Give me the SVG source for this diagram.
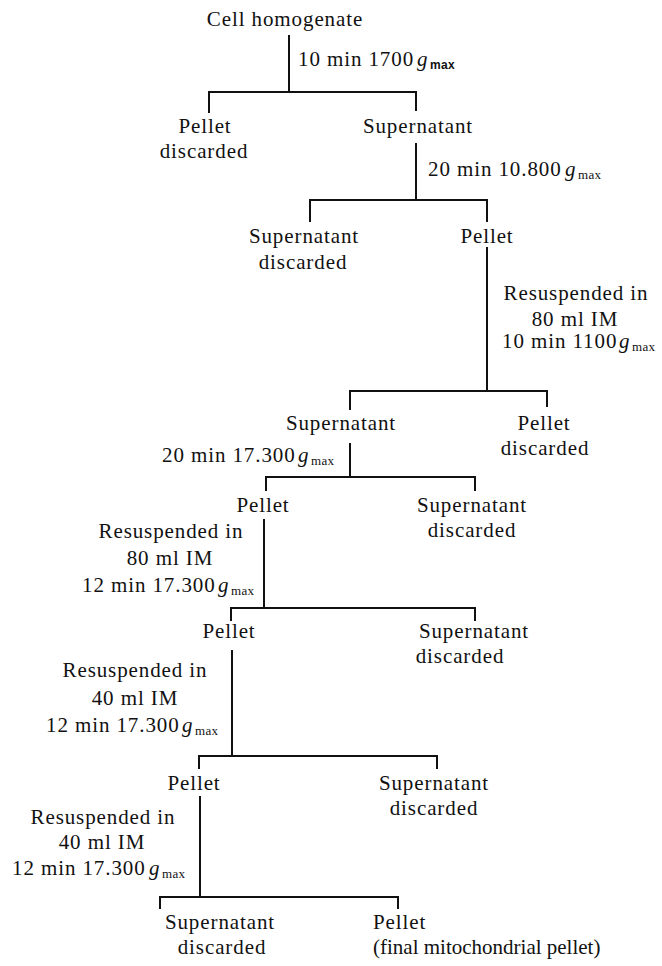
<svg xmlns="http://www.w3.org/2000/svg" width="662" height="966" viewBox="0 0 662 966">
<style>
text{font-family:"Liberation Serif","Times New Roman",serif;font-size:21px;letter-spacing:0.9px;fill:#111}
.c{text-anchor:middle}
.g{font-style:italic}
.sub{font-size:13px;letter-spacing:0.3px}
.subs{font-family:"Liberation Sans",Arial,sans-serif;font-weight:bold;font-size:12px;letter-spacing:0.3px}
.tight{letter-spacing:0}
#connectors path{fill:none;stroke:#111;stroke-width:2}
</style>
<rect width="662" height="966" fill="#fff"/>
<g id="connectors">
<path d="M289,35 V92 M209,113 V92 H416 V111"/>
<path d="M416,143 V200 M310,222 V200 H487 V222"/>
<path d="M487,247 V391 M350,410 V391 H547 V407"/>
<path d="M350,443 V477 M266,491 V477 H475 V491"/>
<path d="M264,519 V608 M231,621 V608 H475 V621"/>
<path d="M232,650 V756 M199,769 V756 H437 V769"/>
<path d="M200,796 V897 M160,909 V897 H398 V909"/>
</g>
<g id="n0"><text class="c" x="285" y="26">Cell homogenate</text></g>
<g id="e1"><text x="298" y="66">10 min 1700<tspan class="g" x="417">g</tspan><tspan class="subs" x="430" y="69">max</tspan></text></g>
<g id="n1"><text class="c" x="205" y="133">Pellet</text><text class="c" x="204" y="158">discarded</text></g>
<g id="n2"><text class="c" x="418" y="133">Supernatant</text></g>
<g id="e2"><text x="428" y="176">20 min 10.800<tspan class="g" x="565">g</tspan><tspan class="sub" x="578" y="179">max</tspan></text></g>
<g id="n3"><text class="c" x="304" y="243">Supernatant</text><text class="c" x="303" y="269">discarded</text></g>
<g id="n4"><text class="c" x="487" y="243">Pellet</text></g>
<g id="e3"><text class="c" x="576" y="300">Resuspended in</text><text class="c" x="575" y="326">80 ml IM</text><text x="502" y="348">10 min 1100<tspan class="g" x="619">g</tspan><tspan class="sub" x="632" y="351">max</tspan></text></g>
<g id="n5"><text class="c" x="341" y="430">Supernatant</text></g>
<g id="n6"><text class="c" x="544" y="430">Pellet</text><text class="c" x="545" y="455">discarded</text></g>
<g id="e4"><text x="162" y="462">20 min 17.300<tspan class="g" x="298">g</tspan><tspan class="sub" x="311" y="465">max</tspan></text></g>
<g id="n7"><text class="c" x="263" y="512">Pellet</text></g>
<g id="n8"><text class="c" x="472" y="512">Supernatant</text><text class="c" x="472" y="537">discarded</text></g>
<g id="e5"><text class="c" x="171" y="538">Resuspended in</text><text class="c" x="170" y="565">80 ml IM</text><text x="82" y="592">12 min 17.300<tspan class="g" x="218">g</tspan><tspan class="sub" x="231" y="595">max</tspan></text></g>
<g id="n9"><text class="c" x="229" y="638">Pellet</text></g>
<g id="n10"><text class="c" x="474" y="638">Supernatant</text><text class="c" x="460" y="663">discarded</text></g>
<g id="e6"><text class="c" x="135" y="677">Resuspended in</text><text class="c" x="135" y="705">40 ml IM</text><text x="46" y="732">12 min 17.300<tspan class="g" x="182">g</tspan><tspan class="sub" x="195" y="735">max</tspan></text></g>
<g id="n11"><text class="c" x="194" y="790">Pellet</text></g>
<g id="n12"><text class="c" x="434" y="790">Supernatant</text><text class="c" x="434" y="815">discarded</text></g>
<g id="e7"><text class="c" x="103" y="824">Resuspended in</text><text class="c" x="102" y="849">40 ml IM</text><text x="12" y="875">12 min 17.300<tspan class="g" x="149">g</tspan><tspan class="sub" x="162" y="878">max</tspan></text></g>
<g id="n13"><text class="c" x="220" y="929">Supernatant</text><text class="c" x="222" y="954">discarded</text></g>
<g id="n14"><text x="373" y="929">Pellet</text><text class="tight" x="373" y="954">(final mitochondrial pellet)</text></g>
</svg>
